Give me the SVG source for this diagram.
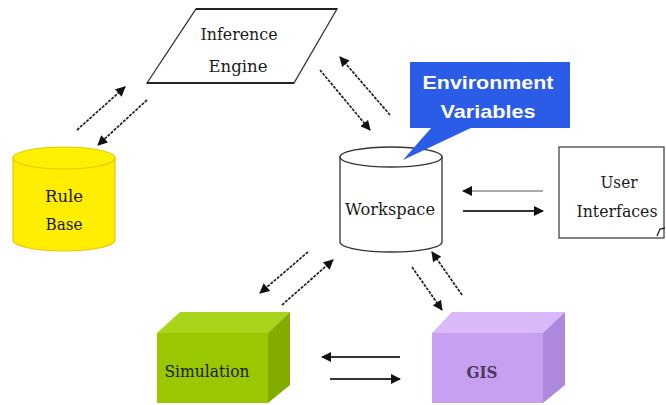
<svg xmlns="http://www.w3.org/2000/svg" width="666" height="405" viewBox="0 0 666 405">
<defs>
<marker id="ah" viewBox="0 0 10 10" refX="9" refY="5" markerWidth="11" markerHeight="10" markerUnits="userSpaceOnUse" orient="auto">
<path d="M0,0 L10,5 L0,10 Z" fill="#111"/>
</marker>
<style>
.lbl{font-family:"DejaVu Serif","Liberation Serif",serif;font-size:16px;fill:#1a1a1a;text-anchor:middle}
.env{font-family:"Liberation Sans",Arial,sans-serif;font-size:19px;font-weight:bold;fill:#fff;text-anchor:middle}
.dash{stroke:#222;stroke-width:1.7;stroke-dasharray:3,1.2;fill:none;marker-end:url(#ah)}
.solid{stroke:#333;stroke-width:2;fill:none;marker-end:url(#ah)}
.light{stroke:#aaa;stroke-width:2;fill:none;marker-end:url(#ah)}
</style>
</defs>
<rect width="666" height="405" fill="#fff"/>

<g id="connectors">
<line class="dash" x1="77" y1="130" x2="125" y2="87"/>
<line class="dash" x1="147" y1="100" x2="98" y2="145"/>
<line class="dash" x1="320" y1="70" x2="370" y2="130"/>
<line class="dash" x1="390" y1="115" x2="340" y2="57"/>
<line class="light" x1="543" y1="191" x2="463" y2="191"/>
<line class="solid" x1="463" y1="211" x2="543" y2="211"/>
<line class="dash" x1="308" y1="252" x2="260" y2="293"/>
<line class="dash" x1="282" y1="305" x2="333" y2="260"/>
<line class="dash" x1="412" y1="267" x2="442" y2="310"/>
<line class="dash" x1="462" y1="295" x2="432" y2="252"/>
<line class="solid" x1="400" y1="357" x2="322" y2="357"/>
<line class="solid" x1="330" y1="379" x2="400" y2="379"/>
</g>

<g id="inference-engine">
<polygon points="196,9 337,9 294,83 147,83" fill="#fff" stroke="#333" stroke-width="1.3"/>
<line x1="196" y1="9" x2="337" y2="9" stroke="#222" stroke-width="2"/>
<line x1="147" y1="83" x2="294" y2="83" stroke="#222" stroke-width="2"/>
<text class="lbl" x="239" y="40" textLength="77" lengthAdjust="spacingAndGlyphs">Inference</text>
<text class="lbl" x="238" y="72" textLength="59" lengthAdjust="spacingAndGlyphs">Engine</text>
</g>

<g id="rule-base">
<path d="M13,158 L13,240 A51,11 0 0 0 115,240 L115,158 Z" fill="#ffee00" stroke="#e8c800" stroke-width="1.2"/>
<ellipse cx="64" cy="158" rx="51" ry="11" fill="#fff200" stroke="#e8c800" stroke-width="1.2"/>
<text class="lbl" x="64" y="202" textLength="38" lengthAdjust="spacingAndGlyphs">Rule</text>
<text class="lbl" x="64" y="230" textLength="37" lengthAdjust="spacingAndGlyphs">Base</text>
</g>

<g id="workspace">
<path d="M340,157 L340,242 A51,10 0 0 0 442,242 L442,157 Z" fill="#fff" stroke="#333" stroke-width="1.3"/>
<ellipse cx="391" cy="157" rx="51" ry="10" fill="#fff" stroke="#333" stroke-width="1.3"/>
<text class="lbl" x="390" y="215" textLength="90" lengthAdjust="spacingAndGlyphs">Workspace</text>
</g>

<g id="user-interfaces">
<rect x="559" y="147" width="105" height="91" fill="#fff" stroke="#444" stroke-width="1.3"/>
<text class="lbl" x="619" y="188" textLength="37" lengthAdjust="spacingAndGlyphs">User</text>
<text class="lbl" x="617" y="217" textLength="81" lengthAdjust="spacingAndGlyphs">Interfaces</text>
<path d="M657,236 L660,229 L665,228" fill="none" stroke="#222" stroke-width="1.3"/>
</g>

<g id="simulation">
<polygon points="157,333 180,312 290,312 268,333" fill="#a9d41c"/>
<polygon points="268,333 290,312 290,385 268,403" fill="#82ad00"/>
<rect x="157" y="333" width="111" height="70" fill="#99c800"/>
<text class="lbl" x="207" y="377" textLength="85" lengthAdjust="spacingAndGlyphs">Simulation</text>
</g>

<g id="gis">
<polygon points="432,333 452,312 565,312 543,333" fill="#d9b9fa"/>
<polygon points="543,333 565,312 565,385 543,403" fill="#ae88dc"/>
<rect x="432" y="333" width="111" height="70" fill="#c8a0f2"/>
<text class="lbl" x="482" y="378" textLength="31" lengthAdjust="spacingAndGlyphs" style="fill:#4a3860;font-weight:bold">GIS</text>
</g>

<g id="environment-variables">
<polygon points="432,127 473,127 403,160" fill="#2a5ce8"/>
<rect x="410" y="62" width="160" height="66" fill="#2a5ce8"/>
<text class="env" x="488" y="89" textLength="131" lengthAdjust="spacingAndGlyphs">Environment</text>
<text class="env" x="488" y="118" textLength="95" lengthAdjust="spacingAndGlyphs">Variables</text>
</g>
</svg>
